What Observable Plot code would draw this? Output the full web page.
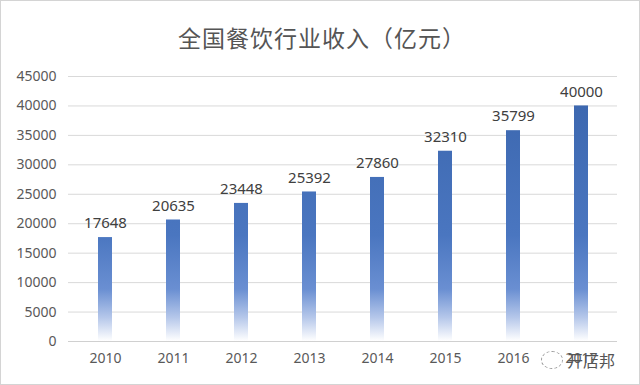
<!DOCTYPE html>
<html>
<head>
<meta charset="utf-8">
<script src="https://cdn.jsdelivr.net/npm/d3@7"></script>
<script src="https://cdn.jsdelivr.net/npm/@observablehq/plot@0.6"></script>
<style>
  html, body { margin: 0; padding: 0; background: #fff; }
  #frame { position: relative; width: 638px; height: 383px; border: 1px solid #d4d4d4; background: #fff; overflow: hidden; font-family: "Noto Sans CJK SC", "Noto Sans", sans-serif; }
  #title { height: 61px; line-height: 72px; text-align: center; font-size: 23px; color: #555; letter-spacing: 1px; padding-left: 4px; }
  #wm { position: absolute; left: 540px; top: 347px; font-size: 16px; color: #555; display: flex; align-items: center; gap: 4px; }
  #wm .icon { width: 20px; height: 16px; border: 1.5px dashed #999; border-radius: 50%; }
</style>
</head>
<body>
<div id="frame">
  <div id="title">全国餐饮行业收入（亿元）</div>
  <div id="chart"></div>
  <div id="wm"><span class="icon"></span><span>开店邦</span></div>
</div>
<script>
const years = ["2010", "2011", "2012", "2013", "2014", "2015", "2016", "2017"];
const revenue = [17648, 20635, 23448, 25392, 27860, 32310, 35799, 40000];
const yTicks = [0, 5000, 10000, 15000, 20000, 25000, 30000, 35000, 40000, 45000];

const data = years.map((y, i) => ({year: y, value: revenue[i]}));

const plot = Plot.plot({
  width: 638,
  height: 322,
  marginTop: 14,
  marginBottom: 43,
  marginLeft: 67,
  marginRight: 22,
  style: {fontFamily: "'Noto Sans', 'DejaVu Sans', sans-serif", fontSize: "14px", color: "#595959", background: "transparent"},
  x: {domain: years, paddingInner: 0.8, paddingOuter: 0.4, label: null, tickSize: 0, tickPadding: 12},
  y: {domain: [0, 45000], ticks: yTicks, label: null, tickSize: 0, tickPadding: 12, tickFormat: d => String(d)},
  marks: [
    Plot.gridY(yTicks, {stroke: "#d9d9d9", strokeOpacity: 1, strokeWidth: 1}),
    Plot.barY(data, {x: "year", y: "value", fill: "url(#barGrad)"}),
    Plot.text(data, {x: "year", y: "value", text: d => String(d.value), dy: -14, fontSize: 15, fill: "#404040"}),
    Plot.ruleY([0], {stroke: "#d0d0d0", strokeWidth: 1})
  ]
});

const ys = plot.scale("y");
const svgNS = "http://www.w3.org/2000/svg";
const defs = document.createElementNS(svgNS, "defs");
const grad = document.createElementNS(svgNS, "linearGradient");
grad.setAttribute("id", "barGrad");
grad.setAttribute("gradientUnits", "userSpaceOnUse");
grad.setAttribute("x1", "0"); grad.setAttribute("x2", "0");
grad.setAttribute("y1", String(ys.apply(40000)));
grad.setAttribute("y2", String(ys.apply(0)));
[[0, "#3d68b0"], [0.55, "#4a76c0"], [0.78, "#6a8fd2"], [0.9, "#b5c7ea"], [1, "#ffffff"]].forEach(([o, c]) => {
  const s = document.createElementNS(svgNS, "stop");
  s.setAttribute("offset", String(o));
  s.setAttribute("stop-color", c);
  grad.appendChild(s);
});
defs.appendChild(grad);
plot.insertBefore(defs, plot.firstChild);

document.getElementById("chart").appendChild(plot);
</script>
</body>
</html>
